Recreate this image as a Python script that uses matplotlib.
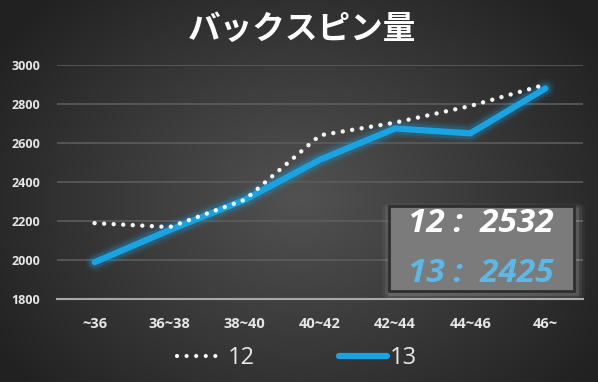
import numpy as np
import matplotlib
matplotlib.use('Agg')
import matplotlib.pyplot as plt
from matplotlib.patches import FancyBboxPatch
from matplotlib.lines import Line2D

# data
categories = ['~36', '36~38', '38~40', '40~42', '42~44', '44~46', '46~']
spin_12 = [2190, 2170, 2310, 2640, 2705, 2790, 2900]
spin_13 = [1990, 2155, 2310, 2515, 2675, 2650, 2880]
series_names = ['12', '13']
averages = [2532, 2425]
yticks = [1800, 2000, 2200, 2400, 2600, 2800, 3000]
title = 'バックスピン量'

W, H = 598, 382
blue = '#1aa3e3'
text_blue = '#5cb8e6'
latin = ['Open Sans', 'DejaVu Sans']
cjk = ['Noto Sans CJK JP', 'DejaVu Sans']

fig = plt.figure(figsize=(W / 100, H / 100), dpi=100)

# radial gradient background
bg = fig.add_axes([0, 0, 1, 1])
yy, xx = np.mgrid[0:H, 0:W]
r = np.sqrt(((xx - 300) / 380.) ** 2 + ((yy - 200) / 300.) ** 2)
shade = np.clip(0.32 - 0.2 * r, 0.13, 0.32)
bg.imshow(np.dstack([shade] * 3), extent=[0, W, H, 0], aspect='auto')
bg.set_xlim(0, W)
bg.set_ylim(H, 0)
bg.axis('off')

ax = fig.add_axes([57 / W, (H - 299.3) / H, (583 - 57) / W, 234.3 / H])
ax.set_facecolor('none')
x = np.arange(len(categories))

# glow under the blue line
for lw, a in [(14, 0.06), (11, 0.1), (8.5, 0.18)]:
    ax.plot(x, spin_13, color=blue, lw=lw, alpha=a, solid_capstyle='round',
            solid_joinstyle='round', clip_on=False, zorder=3)
ax.plot(x, spin_13, color=blue, lw=4.5, solid_capstyle='round',
        solid_joinstyle='round', clip_on=False, zorder=4)
ax.plot(x, spin_12, color='white', lw=3.2, ls=(0, (0.001, 2.15)),
        dash_capstyle='round', clip_on=False, zorder=5, alpha=0.95)

ax.set_xlim(-0.5, len(categories) - 0.5)
ax.set_ylim(1800, 3000)
ax.set_yticks(yticks)
ax.set_xticks(x)
ax.set_xticklabels(categories)
ax.grid(axis='y', color='#5c5c5c', lw=1.2)
ax.tick_params(length=0, colors='#e6e6e6')
ax.tick_params(axis='y', pad=12)
ax.tick_params(axis='x', pad=13)
for lab in ax.get_yticklabels():
    lab.set_fontfamily(latin)
    lab.set_fontweight('bold')
    lab.set_fontsize(9)
for lab in ax.get_xticklabels():
    lab.set_fontfamily(latin)
    lab.set_fontweight('bold')
    lab.set_fontsize(10.5)
for s in ['top', 'right', 'left']:
    ax.spines[s].set_visible(False)
ax.spines['bottom'].set_color('#a8a8a8')
ax.spines['bottom'].set_linewidth(1.5)

fig.text(302 / W, 1 - 29 / H, title, ha='center', va='center', color='white',
         fontsize=23.5, fontweight='bold', family=cjk)

# legend
handles = [
    Line2D([], [], color='white', lw=3.0, ls=(0, (0.001, 2.3)), dash_capstyle='round'),
    Line2D([], [], color=blue, lw=4.5, solid_capstyle='round'),
]
leg = fig.legend(handles, series_names, loc='center', ncol=2,
                 bbox_to_anchor=(297 / W, 1 - 358 / H), frameon=False,
                 prop={'family': latin, 'size': 17}, labelcolor='#e8e8e8',
                 handlelength=2.0, handletextpad=0.15, columnspacing=3.6)

# average box
bx0, by0, bx1, by1 = 389, 206, 574, 291
for pad, a in [(9, 0.04), (6, 0.07), (3, 0.12)]:
    fig.patches.append(FancyBboxPatch(((bx0 + 2) / W, 1 - (by1 + 3) / H),
                                      (bx1 - bx0) / W, (by1 - by0) / H,
                                      boxstyle='round,pad=%f' % (pad / W),
                                      transform=fig.transFigure, fc='white',
                                      ec='none', alpha=a, zorder=6))
fig.patches.append(FancyBboxPatch((bx0 / W, 1 - by1 / H), (bx1 - bx0) / W,
                                  (by1 - by0) / H, boxstyle='square,pad=0',
                                  transform=fig.transFigure, fc='#7b7b7b',
                                  ec='#2e2e2e', lw=2, zorder=7))
for name, val, col, yc in [(series_names[0], averages[0], 'white', 224),
                           (series_names[1], averages[1], text_blue, 273)]:
    fig.text(481 / W, 1 - yc / H, '%s :  %d' % (name, val), ha='center',
             va='center', color=col, fontsize=24, fontweight='bold',
             fontstyle='italic', family=latin, zorder=8)

fig.savefig('out.png', dpi=100)
